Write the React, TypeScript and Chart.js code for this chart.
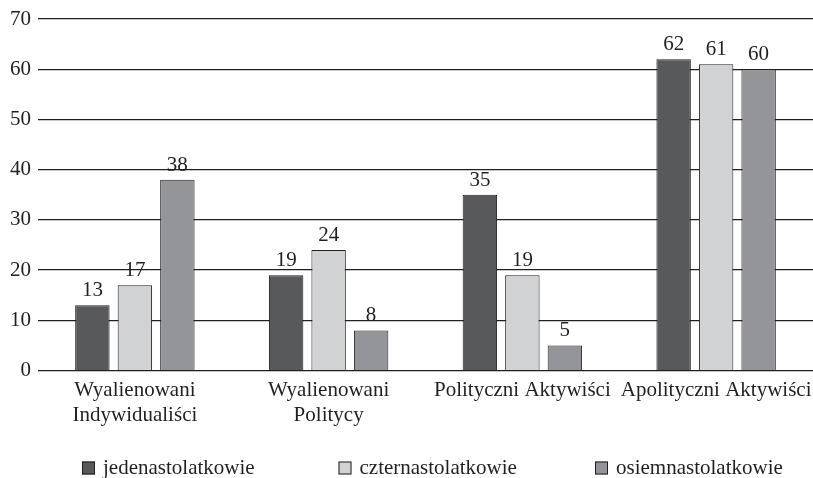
import React, { useEffect, useRef } from "react";
import { Chart, registerables } from "chart.js";

Chart.register(...registerables);

const categories: (string | string[])[] = [
  ["Wyalienowani", "Indywidualiści"],
  ["Wyalienowani", "Politycy"],
  "Polityczni Aktywiści",
  "Apolityczni Aktywiści",
];
const seriesNames = ["jedenastolatkowie", "czternastolatkowie", "osiemnastolatkowie"];
const jedenastolatkowie = [13, 19, 35, 62];
const czternastolatkowie = [17, 24, 19, 61];
const osiemnastolatkowie = [38, 8, 5, 60];
const seriesColors = ["#58595b", "#d1d2d4", "#939598"];
const yTicks = [0, 10, 20, 30, 40, 50, 60, 70];

const FONT = "'Liberation Serif', 'Times New Roman', serif";
const INK = "#231f20";

const valueLabels = {
  id: "valueLabels",
  afterDatasetsDraw(chart: any) {
    const ctx = chart.ctx;
    ctx.save();
    ctx.font = `21px ${FONT}`;
    ctx.fillStyle = INK;
    ctx.textAlign = "center";
    ctx.textBaseline = "alphabetic";
    chart.data.datasets.forEach((ds: any, i: number) => {
      const meta = chart.getDatasetMeta(i);
      meta.data.forEach((bar: any, j: number) => {
        ctx.fillText(String(ds.data[j]), bar.x, bar.y - 9);
      });
    });
    ctx.restore();
  },
};

// bottom legend drawn by hand: evenly spaced items
const customLegend = {
  id: "customLegend",
  afterDraw(chart: any) {
    const ctx = chart.ctx;
    const startX = 82;
    const step = 256.5;
    const boxSize = 13;
    const cy = 468;
    ctx.save();
    ctx.font = `21px ${FONT}`;
    ctx.textAlign = "left";
    ctx.textBaseline = "middle";
    chart.data.datasets.forEach((ds: any, i: number) => {
      const x = startX + i * step;
      ctx.fillStyle = seriesColors[i];
      ctx.fillRect(x, cy - boxSize / 2, boxSize, boxSize);
      ctx.strokeStyle = INK;
      ctx.lineWidth = 1;
      ctx.strokeRect(x + 0.5, cy - boxSize / 2 + 0.5, boxSize - 1, boxSize - 1);
      ctx.fillStyle = INK;
      ctx.fillText(ds.label, x + boxSize + 8, cy);
    });
    ctx.restore();
  },
};

export default function App() {
  const ref = useRef<HTMLCanvasElement>(null);
  useEffect(() => {
    document.body.style.margin = "0";
    const data = [jedenastolatkowie, czternastolatkowie, osiemnastolatkowie];
    const chart = new Chart(ref.current!, {
      type: "bar",
      data: {
        labels: categories,
        datasets: data.map((d, i) => ({
          label: seriesNames[i],
          data: d,
          backgroundColor: seriesColors[i],
          borderColor: INK,
          borderWidth: 1,
          barPercentage: 0.81,
          categoryPercentage: 0.658,
        })),
      },
      options: {
        animation: false,
        responsive: false,
        layout: { autoPadding: false, padding: { top: 19, left: 10, right: 0, bottom: 43 } },
        plugins: {
          legend: { display: false },
          tooltip: { enabled: false },
        },
        scales: {
          x: {
            grid: { display: false, drawTicks: false },
            border: { display: false },
            afterFit: (axis: any) => {
              axis.paddingLeft = 0;
              axis.paddingRight = 0;
            },
            ticks: {
              font: { family: FONT, size: 21, lineHeight: 1.2 },
              color: INK,
              padding: 7,
              maxRotation: 0,
              autoSkip: false,
            },
          },
          y: {
            min: 0,
            max: 70,
            afterBuildTicks: (axis: any) => {
              axis.ticks = yTicks.map((v) => ({ value: v }));
            },
            afterFit: (axis: any) => {
              axis.width = 28;
              axis.paddingTop = 0;
              axis.paddingBottom = 0;
            },
            grid: { color: INK, lineWidth: 1.3, drawTicks: false },
            border: { display: false },
            ticks: {
              font: { family: FONT, size: 21 },
              color: INK,
              padding: 7,
            },
          },
        },
      },
      plugins: [valueLabels, customLegend],
    });
    return () => chart.destroy();
  }, []);
  return <canvas ref={ref} width={813} height={478} style={{ display: "block" }} />;
}
